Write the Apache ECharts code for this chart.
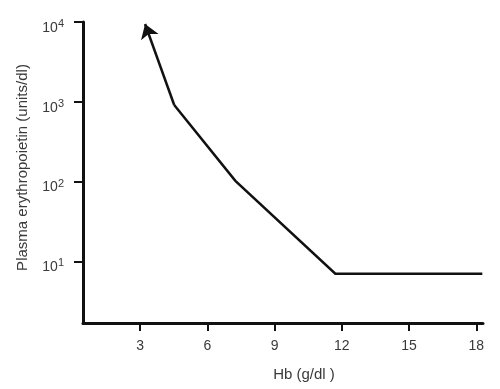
<!DOCTYPE html>
<html><head><meta charset="utf-8">
<script src="https://cdn.jsdelivr.net/npm/echarts@6/dist/echarts.min.js"></script>
<style>html,body{margin:0;padding:0;background:#fff}#c{width:500px;height:389px}</style>
</head><body><div id="c"></div>
<script>
// Data (Hb in g/dl, plasma erythropoietin in units/dl)
var hbValues = [18.27, 11.71, 7.25, 4.52, 3.22];
var epoValues = [7, 7, 102, 912, 9440];
var xTicks = [3, 6, 9, 12, 15, 18];
var yTicks = [10, 100, 1000, 10000];
var xTitle = 'Hb (g/dl )';
var yTitle = 'Plasma erythropoietin (units/dl)';

var coords = hbValues.map(function (h, i) { return [h, epoValues[i]]; });
var n = coords.length;
var chart = echarts.init(document.getElementById('c'));
var font = 'Liberation Sans, Arial, sans-serif';
var txt = '#3a3a3a';
chart.setOption({
  animation: false,
  grid: { left: 83, top: 22, right: 17, bottom: 66 },
  xAxis: {
    type: 'value', min: 0.45, max: 18.3,
    splitLine: { show: false },
    axisLine: { lineStyle: { color: '#111', width: 3 } },
    axisTick: { show: true, length: 8, lineStyle: { color: '#111', width: 2 }, customValues: xTicks },
    axisLabel: { customValues: xTicks, margin: 16, color: txt, fontSize: 14, fontFamily: font },
    name: xTitle, nameLocation: 'middle', nameGap: 44,
    nameTextStyle: { color: txt, fontSize: 15, fontFamily: font, padding: [0, 0, 0, 42] }
  },
  yAxis: {
    type: 'log', logBase: 10, min: 1.69, max: 10000,
    splitLine: { show: false },
    axisLine: { onZero: false, lineStyle: { color: '#111', width: 3 } },
    axisTick: { show: true, length: 9, lineStyle: { color: '#111', width: 2 }, customValues: yTicks },
    axisLabel: {
      customValues: yTicks, margin: 19, color: txt, fontSize: 14, fontFamily: font,
      padding: [12, 0, 0, 0],
      formatter: function (v) { return '10{s|' + Math.round(Math.log10(v)) + '}'; },
      rich: { s: { fontSize: 11, verticalAlign: 'top', padding: [0, 0, 8, 0], color: txt, fontFamily: font } }
    },
    name: yTitle, nameLocation: 'middle', nameGap: 53,
    nameTextStyle: { color: txt, fontSize: 15, fontFamily: font, padding: [0, 0, 0, 10] }
  },
  series: [{
    type: 'lines', coordinateSystem: 'cartesian2d', polyline: true,
    symbol: 'none',
    lineStyle: { color: '#111', width: 2.5, opacity: 1 },
    data: [{ coords: coords.slice(0, n - 1) }]
  }, {
    type: 'lines', coordinateSystem: 'cartesian2d',
    symbol: ['none', 'arrow'], symbolSize: [11, 14],
    itemStyle: { color: '#111' },
    lineStyle: { color: '#111', width: 2.5, opacity: 1 },
    data: [{ coords: [coords[n - 2], coords[n - 1]] }]
  }]
});
</script></body></html>
